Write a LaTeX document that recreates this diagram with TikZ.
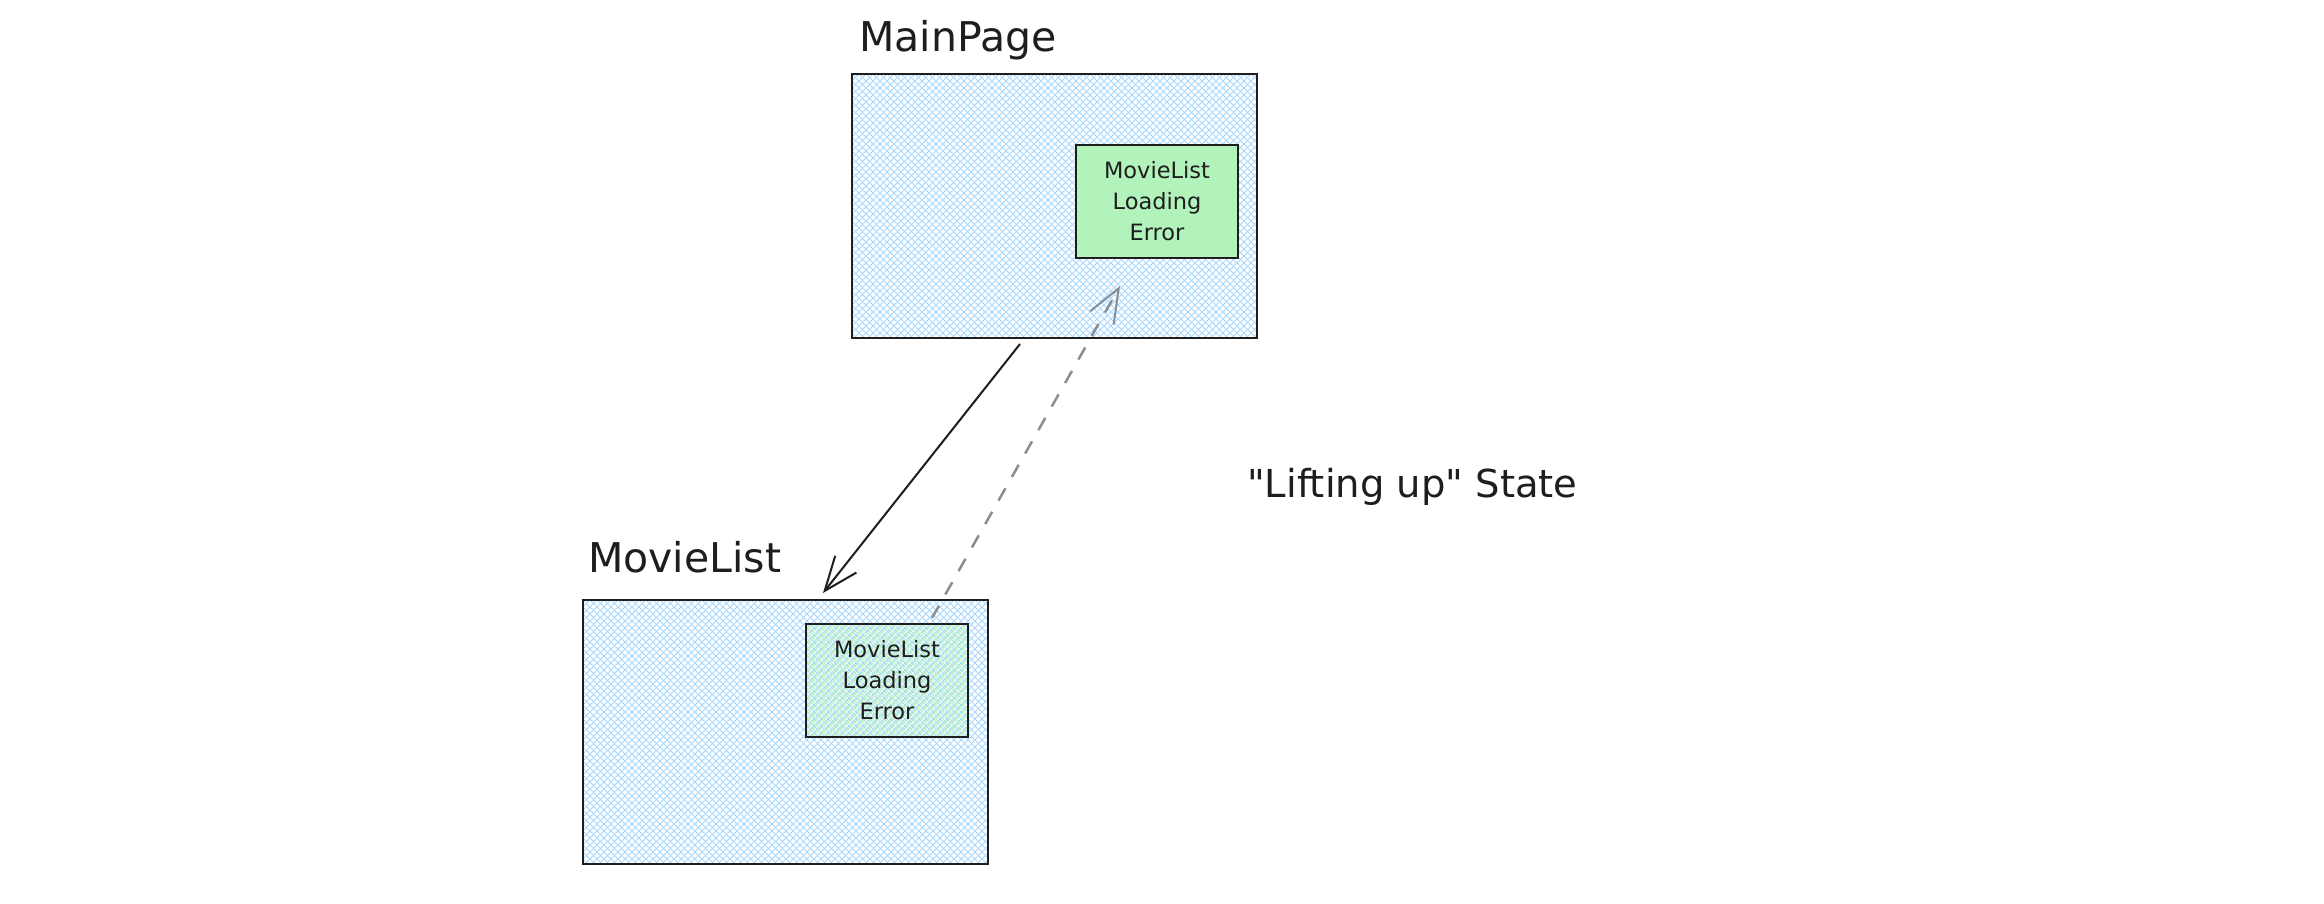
\documentclass[tikz,border=0pt]{standalone}
\usepackage{fontspec}
\setmainfont{DejaVu Sans}
\newfontfamily\plainquotes{DejaVu Sans}[Ligatures=TeXOff]
\usetikzlibrary{arrows.meta,calc}
\definecolor{hatchblue}{HTML}{A5D8FF}
\definecolor{hatchgreen}{HTML}{B2F2BB}
\definecolor{fillgreen}{HTML}{B2F2BB}
\definecolor{ink}{HTML}{1E1E1E}
\definecolor{dashgray}{HTML}{868E96}
\tikzset{
  hatch/.style={path picture={
    \foreach \i in {-280,-273,...,700} {
      \draw[#1,line width=0.8pt] ([xshift=\i pt]path picture bounding box.north west) -- ++(300,300);
      \draw[#1,line width=0.8pt] ([xshift=\i pt]path picture bounding box.north west) -- ++(-300,300);
    }}},
  bigbox/.style={draw=ink,line width=1.5pt,rectangle,inner sep=0pt,outer sep=0pt,
    minimum width=405pt,minimum height=264pt,hatch=hatchblue},
  smallbox/.style={draw=ink,line width=1.5pt,rectangle,inner sep=0pt,outer sep=0pt,
    minimum width=162pt,minimum height=113pt,align=center,text=ink,
    font=\fontsize{22.5}{31}\selectfont},
  title/.style={anchor=base west,inner sep=0pt,text=ink,font=\fontsize{41}{48}\selectfont},
  note/.style={anchor=base west,inner sep=0pt,text=ink,font=\plainquotes\fontsize{38.5}{46}\selectfont},
  tip/.style={-{Straight Barb[length=34pt,width=27pt,line width=2pt]}},
  solidarrow/.style={draw=ink,line width=2pt,tip},
  dasharrow/.style={draw=dashgray,line width=2.5pt,dash pattern=on 14pt off 13pt,tip},
}
\begin{document}
\begin{tikzpicture}[x=1pt,y=-1pt]
\useasboundingbox[fill=white] (0,0) rectangle (2324,904);
% main page
\node[bigbox] (main) at (1054.5,206) {};
\node[smallbox,fill=fillgreen] (gbox) at (1157,201.5) {MovieList\\Loading\\Error};
\node[title] (maintitle) at (859,52) {MainPage};
% movie list
\node[bigbox] (ml) at (785.5,732) {};
\node[smallbox,hatch=hatchgreen] (gbox2) at (887,680.5) {MovieList\\Loading\\Error};
\node[title] (mltitle) at (588,572) {MovieList};
% note
\node[note] (lift) at (1247,497) {"Lifting up" State};
% arrows
\draw[solidarrow] ([shift={(168,6)}]main.south west) -- ([shift={(240,-7)}]ml.north west);
\draw[dasharrow] ([shift={(126,-6)}]gbox2.north west) -- ([shift={(44,28)}]gbox.south west);
\end{tikzpicture}
\end{document}
